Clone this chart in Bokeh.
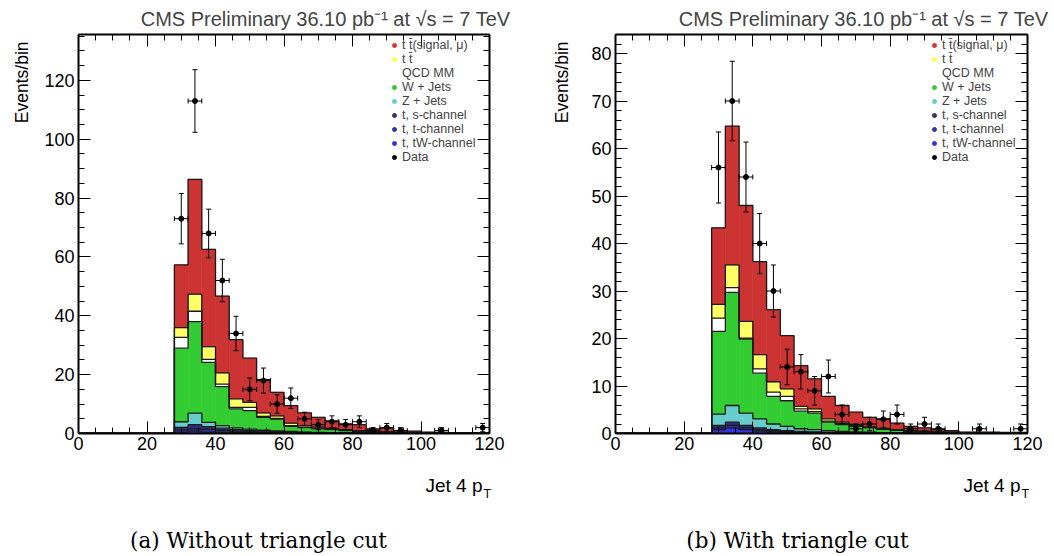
import numpy as np
from bokeh.plotting import figure
from bokeh.models import (Range1d, LinearAxis, SingleIntervalTicker, Title,
                          Legend, LegendItem)
from bokeh.layouts import row, column
from bokeh.core.properties import value
from bokeh.embed import file_html
from bokeh.resources import INLINE

# ---------------- data ----------------
bin_lo = [28, 32, 36, 40, 44, 48, 52, 56, 60, 64, 68, 72, 76, 80, 84, 88,
          92, 96, 100, 104, 108, 112, 116]
bin_width = 4

# (a) without triangle cut
a_signal = [21.3, 39.0, 33.1, 26.1, 20.1, 15.0, 11.3, 8.0, 6.0, 4.3, 3.3, 2.6, 2.0, 2.0, 0.9, 1.2, 0.6, 0.45, 0.2, 0.2, 0.15, 0.15, 0.2]
a_ttbar = [3.3, 5.8, 4.3, 3.8, 2.9, 1.7, 1.2, 0.9, 0.8, 0.5, 0.4, 0.3, 0.2, 0.2, 0.1, 0.1, 0.05, 0.05, 0.05, 0.05, 0.03, 0.02, 0.02]
a_qcd = [3.7, 3.5, 1.0, 0.9, 0.5, 1.1, 0.3, 0.2, 0.3, 0.2, 0.2, 0.1, 0.1, 0.05, 0.05, 0.05, 0.05, 0.05, 0.02, 0.01, 0.02, 0.01, 0.01]
a_wjets = [25.0, 31.1, 20.4, 13.2, 6.5, 6.3, 4.4, 4.0, 1.7, 1.5, 1.2, 1.0, 0.75, 0.55, 0.4, 0.33, 0.2, 0.17, 0.13, 0.1, 0.07, 0.05, 0.05]
a_zjets = [1.9, 3.9, 1.5, 0.9, 0.6, 0.5, 0.3, 0.3, 0.2, 0.15, 0.1, 0.05, 0.05, 0.05, 0.05, 0.04, 0.04, 0.03, 0.01, 0.01, 0.01, 0.0, 0.01]
a_schan = [0.85, 1.45, 0.9, 0.7, 0.5, 0.35, 0.3, 0.2, 0.18, 0.12, 0.1, 0.08, 0.07, 0.05, 0.03, 0.03, 0.02, 0.02, 0.01, 0.01, 0.01, 0.01, 0.0]
a_tchan = [0.8, 0.8, 0.9, 0.6, 0.45, 0.35, 0.28, 0.22, 0.17, 0.12, 0.1, 0.09, 0.07, 0.05, 0.04, 0.03, 0.02, 0.02, 0.01, 0.01, 0.01, 0.0, 0.01]
a_tw = [0.45, 0.8, 0.5, 0.5, 0.35, 0.3, 0.22, 0.18, 0.15, 0.11, 0.1, 0.08, 0.06, 0.05, 0.03, 0.02, 0.02, 0.01, 0.01, 0.01, 0.0, 0.01, 0.0]
a_data = [73, 113, 68, 52, 34, 15, 18, 10, 12, 5, 3, 4, 3, 4, 1, 2, 1, 0, 0, 1, 0, 0, 2]

# (b) with triangle cut
b_signal = [16.1, 29.2, 24.4, 19.6, 15.2, 11.2, 8.6, 6.3, 4.7, 3.5, 2.6, 2.0, 2.0, 1.4, 0.9, 0.7, 0.45, 0.3, 0.1, 0.15, 0.15, 0.12, 0.17]
b_ttbar = [2.9, 4.8, 3.5, 3.0, 2.2, 1.6, 0.5, 0.6, 0.5, 0.3, 0.2, 0.1, 0.1, 0.1, 0.1, 0.05, 0.05, 0.05, 0.05, 0.03, 0.02, 0.02, 0.02]
b_qcd = [2.8, 1.0, 0.2, 0.9, 0.9, 0.9, 0.5, 0.3, 0.2, 0.2, 0.2, 0.1, 0.1, 0.05, 0.05, 0.05, 0.03, 0.03, 0.01, 0.02, 0.01, 0.01, 0.01]
b_wjets = [17.4, 23.8, 15.6, 9.6, 5.8, 5.4, 3.7, 3.5, 1.8, 1.45, 1.15, 0.9, 0.7, 0.5, 0.33, 0.3, 0.19, 0.16, 0.1, 0.07, 0.05, 0.03, 0.03]
b_zjets = [2.4, 3.5, 2.6, 1.9, 1.2, 0.9, 0.55, 0.45, 0.3, 0.2, 0.15, 0.15, 0.08, 0.05, 0.04, 0.04, 0.03, 0.02, 0.01, 0.01, 0.0, 0.01, 0.01]
b_schan = [0.5, 0.7, 0.5, 0.4, 0.25, 0.2, 0.15, 0.12, 0.1, 0.08, 0.07, 0.05, 0.04, 0.03, 0.03, 0.02, 0.02, 0.01, 0.01, 0.01, 0.01, 0.0, 0.0]
b_tchan = [0.4, 0.5, 0.4, 0.3, 0.2, 0.15, 0.12, 0.1, 0.08, 0.07, 0.06, 0.05, 0.04, 0.03, 0.02, 0.02, 0.01, 0.01, 0.01, 0.01, 0.01, 0.01, 0.0]
b_tw = [0.8, 1.2, 0.8, 0.5, 0.35, 0.25, 0.18, 0.13, 0.12, 0.1, 0.07, 0.05, 0.04, 0.04, 0.03, 0.02, 0.02, 0.02, 0.01, 0.01, 0.01, 0.01, 0.01]
b_data = [56, 70, 54, 40, 30, 14, 13, 9, 12, 4, 1, 2, 3, 4, 1, 2, 1, 0, 0, 1, 0, 0, 1]

legend_labels = ["t t\u0304(signal, \u03bc)", "t t\u0304", "QCD MM", "W + Jets", "Z + Jets",
                 "t, s-channel", "t, t-channel", "t, tW-channel", "Data"]
legend_colors = ["#dd3333", "#ffff44", "#ffffff", "#33cc33", "#66cccc",
                 "#333366", "#333399", "#3333ee", "#000000"]
# stack colours, bottom -> top
stack_colors = ["#3333e6", "#3535a8", "#2d2d80", "#66cccc", "#33cc33", "#ffffff", "#ffff66", "#cc3333"]

title_text = "CMS Preliminary 36.10 pb\u207b\u00b9 at \u221as = 7 TeV"
x_title = "Jet 4 p"
x_title_sub = "T"
y_title = "Events/bin"
captions = ["(a) Without triangle cut", "(b) With triangle cut"]

SANS = "Liberation Sans"
PW, PH = 527, 460          # one panel figure
TOP, BOTTOM = 33, 27
CAP_H = 96                 # strip under the panels (axis title + captions)


def style_axis(ax, show_labels=True):
    ax.axis_line_width = 2
    ax.axis_line_color = "black"
    ax.major_tick_in = 12
    ax.major_tick_out = 0
    ax.minor_tick_in = 6
    ax.minor_tick_out = 0
    ax.major_tick_line_color = "black"
    ax.minor_tick_line_color = "black"
    ax.major_tick_line_width = 1
    ax.minor_tick_line_width = 1
    ax.major_label_text_font = SANS
    if show_labels:
        ax.major_label_text_color = "black"
        ax.major_label_text_font_size = "18px"
        ax.major_label_standoff = 3
    else:
        ax.major_label_text_color = None
        ax.major_label_text_font_size = "1px"
        ax.major_label_standoff = 0


def panel(comps, data, ymax, y_major, y_minor_n, left_border, right_border,
          ylab_standoff, legend_x):
    p = figure(width=PW, height=PH, x_range=Range1d(0, 120), y_range=Range1d(0, ymax),
               output_backend="svg", toolbar_location=None,
               min_border_left=left_border, min_border_right=right_border,
               min_border_top=TOP, min_border_bottom=BOTTOM,
               background_fill_color="white", border_fill_color="white")
    p.outline_line_color = None
    p.xgrid.grid_line_color = None
    p.ygrid.grid_line_color = None

    p.xaxis.ticker = SingleIntervalTicker(interval=20, num_minor_ticks=4)
    p.yaxis.ticker = SingleIntervalTicker(interval=y_major, num_minor_ticks=y_minor_n)
    style_axis(p.xaxis[0])
    style_axis(p.yaxis[0])
    p.xaxis.major_label_standoff = 3
    p.yaxis.major_label_standoff = 4
    top_ax = LinearAxis(ticker=SingleIntervalTicker(interval=20, num_minor_ticks=4))
    right_ax = LinearAxis(ticker=SingleIntervalTicker(interval=y_major, num_minor_ticks=y_minor_n))
    style_axis(top_ax, False)
    style_axis(right_ax, False)
    p.add_layout(top_ax, "above")
    p.add_layout(right_ax, "right")

    p.title.text = title_text
    p.title.align = "right"
    p.title.offset = -21
    p.title.standoff = 10
    p.title.text_font = SANS
    p.title.text_font_size = "20px"
    p.title.text_font_style = "normal"
    p.add_layout(Title(text=y_title, align="right", offset=7, standoff=ylab_standoff,
                       text_font=SANS, text_font_size="17.5px", text_font_style="normal",
                       text_color="black"), "left")

    lo = np.array(bin_lo, dtype=float)
    hi = lo + bin_width
    cum = np.zeros(len(lo))
    tops = []
    for vals, col in zip(comps, stack_colors):
        top = cum + np.array(vals, dtype=float)
        p.quad(left=lo, right=hi, bottom=cum, top=top, fill_color=col,
               line_color=col, line_width=0.6)
        tops.append(top)
        cum = top
    for top in tops:
        xs = [0.0, lo[0]]
        ys = [0.0, 0.0]
        for l, h, t in zip(lo, hi, top):
            xs += [l, h]
            ys += [t, t]
        xs += [hi[-1]]
        ys += [0.0]
        p.line(xs, ys, line_color="#1a1a1a", line_width=1.3)

    d = np.array(data, dtype=float)
    m = d > 0
    c = (lo + bin_width / 2)[m]
    d = d[m]
    e = np.sqrt(d)
    p.segment(x0=c - bin_width / 2, y0=d, x1=c + bin_width / 2, y1=d, line_color="black", line_width=1)
    p.segment(x0=c, y0=d - e, x1=c, y1=d + e, line_color="black", line_width=1)
    p.scatter(np.concatenate([c, c]), np.concatenate([d - e, d + e]), marker="dash",
              size=5, line_color="black", line_width=1)
    p.scatter(np.concatenate([c - bin_width / 2, c + bin_width / 2]), np.concatenate([d, d]),
              marker="dash", angle=np.pi / 2, size=5, line_color="black", line_width=1)
    p.scatter(c, d, marker="circle", size=5, fill_color="black", line_color="black")

    items = []
    for lab, col in zip(legend_labels, legend_colors):
        r = p.scatter(x=[np.nan], y=[np.nan], marker="circle", size=4,
                      fill_color=col, line_color=col)
        items.append(LegendItem(label=lab, renderers=[r]))
    fh = PH - TOP - BOTTOM
    leg = Legend(items=items, location=(legend_x, fh - 5 - 9 * 14), padding=0, spacing=0,
                 margin=0, glyph_width=10, glyph_height=14, label_height=14,
                 label_standoff=3, label_text_font=SANS, label_text_font_size="12.5px",
                 border_line_color=None, background_fill_alpha=0)
    p.add_layout(leg)
    return p


p1 = panel([a_tw, a_tchan, a_schan, a_zjets, a_wjets, a_qcd, a_ttbar, a_signal], a_data,
           135.6, 20, 4, 76, 38, 19, 311)
p2 = panel([b_tw, b_tchan, b_schan, b_zjets, b_wjets, b_qcd, b_ttbar, b_signal], b_data,
           84.0, 10, 5, 88, 27, 33, 314)

# strip below the panels: x-axis titles and sub-figure captions (page pixel coords)
pc = figure(width=2 * PW, height=CAP_H, x_range=Range1d(0, 2 * PW),
            y_range=Range1d(PH + CAP_H, PH), output_backend="svg", toolbar_location=None,
            x_axis_type=None, y_axis_type=None, min_border=0,
            background_fill_color="white", border_fill_color="white")
pc.outline_line_color = None
pc.grid.visible = False
pc.text(x=[482, 1020], y=[485, 485], text=[x_title, x_title], text_font=value(SANS),
        text_font_size="19px", text_align="right", text_baseline="middle", text_color="black")
pc.text(x=[483, 1021], y=[493, 493], text=[x_title_sub, x_title_sub], text_font=value(SANS),
        text_font_size="12.5px", text_align="left", text_baseline="middle", text_color="black")
pc.text(x=[258, 797], y=[540, 540], text=captions, text_font=value("DejaVu Serif"),
        text_font_size="21.5px", text_align="center", text_baseline="middle", text_color="black")

layout = column(row(p1, p2), pc)
open("out.html", "w").write(file_html(layout, INLINE))
